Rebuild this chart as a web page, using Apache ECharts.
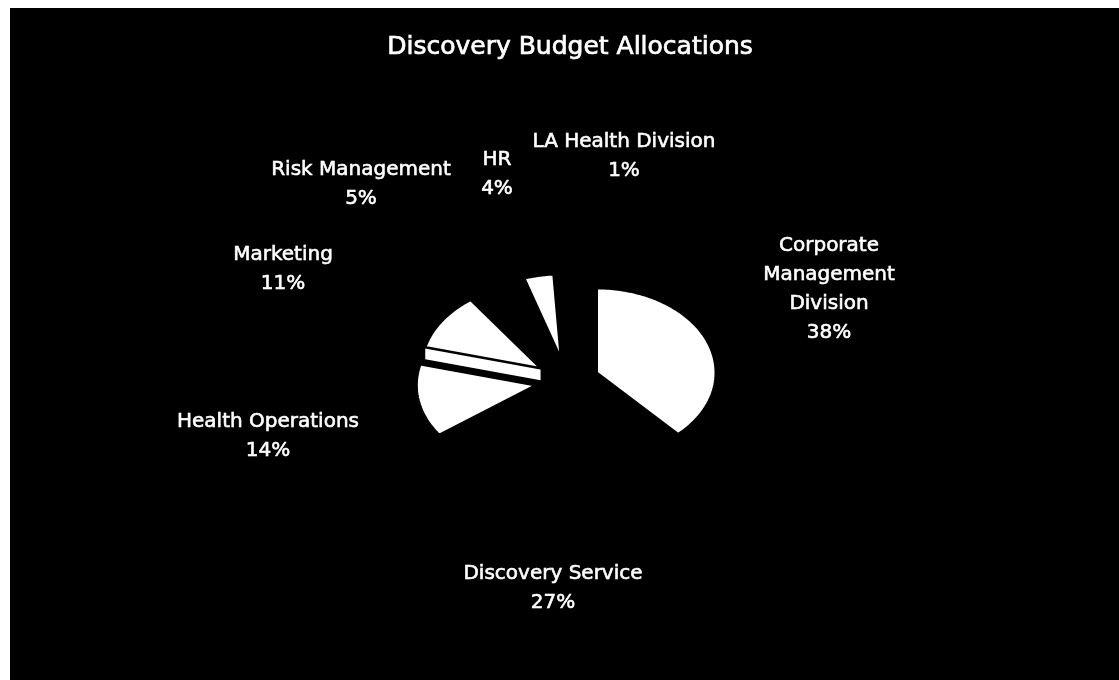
<!DOCTYPE html>
<html>
<head>
<meta charset="utf-8">
<title>Discovery Budget Allocations</title>
<script src="https://cdn.jsdelivr.net/npm/echarts@6/dist/echarts.min.js"></script>
<style>
  html, body { margin: 0; padding: 0; background: #fff; }
  #chart { width: 1119px; height: 680px; }
</style>
</head>
<body>
<div id="chart"></div>
<script>
// Budget shares by unit, clockwise from 12 o'clock
const categories = [
  'Corporate Management Division',
  'Discovery Service',
  'Health Operations',
  'Marketing',
  'Risk Management',
  'HR',
  'LA Health Division'
];
const shares = [38, 27, 14, 11, 5, 4, 1];

// Look of each wedge: top face and (where drawn) its radial side wall
const faceColors = ['#ffffff', '#000000', '#ffffff', '#ffffff', '#000000', '#ffffff', '#000000'];
const sideColors = [null, null, null, '#ffffff', null, null, null];

// Label blocks, placed relative to the pie centre; "wrap" breaks the name per word
const labelPlacement = [
  { dx: 262, dy: -92, wrap: true },
  { dx: -14, dy: 207 },
  { dx: -299, dy: 55 },
  { dx: -284, dy: -112 },
  { dx: -206, dy: -197 },
  { dx: -70, dy: -207 },
  { dx: 57, dy: -225 }
];

// Tilted, exploded pie geometry (pixels)
const PIE = { cx: 567, cy: 381, rx: 119, tilt: 0.71, explode: 32, depth: 12 };
const FONT = 'DejaVu Sans, Liberation Sans, sans-serif';

const total = shares.reduce((a, b) => a + b, 0);

function renderWedge(params, api) {
  const i = params.dataIndex;
  const v = api.value(0);
  let before = 0;
  for (let k = 0; k < i; k++) before += shares[k];
  const a0 = before / total * Math.PI * 2;
  const a1 = (before + v) / total * Math.PI * 2;
  const mid = (a0 + a1) / 2;
  const ry = PIE.rx * PIE.tilt;

  const ox = PIE.cx + PIE.explode * Math.sin(mid);
  const oy = PIE.cy - PIE.explode * PIE.tilt * Math.cos(mid);
  const at = a => [ox + PIE.rx * Math.sin(a), oy - ry * Math.cos(a)];

  const pts = [[ox, oy]];
  const steps = Math.max(2, Math.ceil((a1 - a0) / 0.02));
  for (let s = 0; s <= steps; s++) pts.push(at(a0 + (a1 - a0) * s / steps));

  const children = [];

  // radial side walls that face the viewer
  if (sideColors[i]) {
    const walls = [];
    if (-Math.sin(a0) > 0) walls.push(a0);
    if (Math.sin(a1) > 0) walls.push(a1);
    walls.forEach(a => {
      const p = at(a);
      children.push({
        type: 'polygon',
        z2: 1,
        shape: { points: [[ox, oy], p, [p[0], p[1] + PIE.depth], [ox, oy + PIE.depth]] },
        style: { fill: sideColors[i], stroke: null }
      });
    });
  }

  children.push({
    type: 'polygon',
    z2: 10,
    shape: { points: pts },
    style: { fill: faceColors[i], stroke: '#000', lineWidth: 2.5, lineJoin: 'miter' }
  });

  const lp = labelPlacement[i];
  const name = lp.wrap ? categories[i].split(' ').join('\n') : categories[i];
  const pct = Math.round(v / total * 100) + '%';
  children.push({
    type: 'text',
    z2: 20,
    x: PIE.cx + lp.dx,
    y: PIE.cy + lp.dy,
    style: {
      text: name + '\n' + pct,
      fill: '#fff',
      stroke: '#fff',
      lineWidth: 0.6,
      font: '20px ' + FONT,
      align: 'center',
      verticalAlign: 'middle',
      lineHeight: 29
    }
  });

  return { type: 'group', children: children };
}

const chart = echarts.init(document.getElementById('chart'), null, { renderer: 'canvas' });
chart.setOption({
  backgroundColor: '#ffffff',
  animation: false,
  graphic: [
    {
      type: 'rect',
      z: -10,
      left: 10,
      top: 8,
      shape: { width: 1109, height: 672 },
      style: { fill: '#000' }
    },
    {
      type: 'text',
      z: 10,
      x: 570,
      y: 47,
      style: {
        text: 'Discovery Budget Allocations',
        fill: '#fff',
        stroke: '#fff',
        lineWidth: 0.7,
        font: '25px ' + FONT,
        align: 'center',
        verticalAlign: 'middle'
      }
    }
  ],
  series: [{
    type: 'custom',
    coordinateSystem: 'none',
    renderItem: renderWedge,
    data: shares.map((v, i) => ({ name: categories[i], value: [v] }))
  }]
});
</script>
</body>
</html>
